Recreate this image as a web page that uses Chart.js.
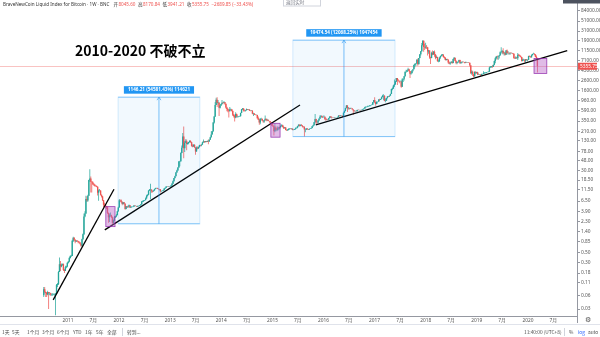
<!DOCTYPE html>
<html>
<head>
<meta charset="utf-8">
<script src="https://cdn.jsdelivr.net/npm/chart.js@4.4.1/dist/chart.umd.min.js"></script>
<style>
  html, body { margin: 0; padding: 0; background: #ffffff; }
  canvas { display: block; }
</style>
</head>
<body>
<canvas id="c" width="600" height="337"></canvas>
<script>
// Weekly BLX candles, one row per week: [close, high, low].
// Each week opens at the previous week's close.
const firstOpen = 0.06;
const firstWeek = Date.UTC(2010, 6, 12);

const btc2010 = [[0.08,0.09,0.055],[0.07,0.09,0.065],[0.067,0.072,0.055],[0.062,0.07,0.055],[0.07,0.075,0.06],[0.066,0.07,0.03],[0.066,0.07,0.06],[0.062,0.068,0.058],[0.062,0.065,0.058],[0.062,0.066,0.058],[0.062,0.065,0.06],[0.062,0.065,0.058],[0.064,0.067,0.022],[0.10,0.105,0.063],[0.105,0.11,0.09],[0.19,0.2,0.1],[0.28,0.39,0.19],[0.25,0.33,0.2],[0.27,0.29,0.24],[0.28,0.29,0.26],[0.21,0.29,0.2],[0.20,0.22,0.18],[0.24,0.26,0.2],[0.25,0.26,0.23],[0.30,0.31,0.24]];

const btc2011 = [[0.32,0.33,0.29],[0.38,0.4,0.31],[0.42,0.44,0.37],[0.42,0.45,0.4],[0.9,0.95,0.42],[1.05,1.1,0.85],[0.95,1.07,0.9],[0.87,0.97,0.8],[0.90,0.93,0.85],[0.89,0.93,0.85],[0.86,0.9,0.8],[0.83,0.88,0.8],[0.78,0.84,0.75],[0.70,0.79,0.67],[0.97,1.0,0.68],[1.25,1.3,0.95],[3.0,3.5,1.2],[3.5,3.9,2.9],[7.2,8.5,3.4],[6.7,8.3,6.2],[8.5,8.9,6.3],[18.5,18.8,8.4],[20,31.9,17],[17,22,10],[16.7,17.5,10],[15.4,17.5,14.5],[14.8,16,14],[13.9,15.1,13.5],[13.8,14.3,13.2],[13.3,14.2,13],[9.9,13.5,8.6],[11.0,11.5,6.6],[11.0,11.8,10.6],[8.9,11.1,8.6],[8.2,9.0,7.8],[6.8,8.4,6.5],[5.4,6.9,4.8],[5.3,6.0,5.0],[5.0,5.4,4.7],[4.9,5.1,4.4],[3.6,4.9,3.4],[2.9,3.7,2.2],[3.2,3.5,2.3],[3.2,3.7,3.0],[2.9,3.3,2.8],[2.2,3.0,2.10],[2.5,2.6,2.15],[2.9,3.1,2.4],[3.0,3.1,2.8],[3.2,3.4,2.9],[3.9,4.0,3.2],[4.7,4.9,3.8]];

const btc2012 = [[6.8,7.2,4.7],[6.7,7.0,6.2],[6.3,7.0,5.9],[5.6,6.4,5.3],[6.1,6.2,5.5],[5.7,6.1,5.5],[4.4,5.8,4.2],[5.0,5.1,4.3],[4.8,5.1,4.6],[4.9,5.2,4.7],[5.3,5.5,4.8],[4.7,5.3,4.6],[4.9,5.0,4.6],[4.9,5.0,4.8],[4.9,5.0,4.8],[5.2,5.3,4.9],[5.1,5.2,5.0],[5.1,5.2,5.0],[4.9,5.1,4.9],[5.1,5.2,4.9],[5.1,5.2,5.0],[5.3,5.3,5.1],[5.5,5.6,5.2],[6.4,6.5,5.5],[6.5,6.7,6.2],[6.7,6.8,6.2],[6.8,6.9,6.5],[7.4,7.8,6.8],[8.4,8.9,7.3],[8.9,9.1,8.2],[11.0,11.2,8.8],[11.5,11.8,10.8],[11.7,15.4,7.1],[10.8,11.2,9.8],[10.5,11.0,10.0],[11.0,11.2,10.5],[11.8,12.0,10.9],[12.3,12.6,11.7],[12.4,12.6,12.1],[12.0,12.6,11.8],[11.8,12.1,11.6],[11.7,11.9,11.4],[10.6,11.8,10.0],[10.7,10.9,10.4],[10.9,11.0,10.6],[11.2,11.4,10.8],[12.2,12.4,11.1],[12.6,12.8,12.0],[13.4,13.6,12.5],[13.5,13.7,13.2],[13.3,13.6,13.1],[13.5,13.6,13.2],[13.5,13.7,13.3]];

const btc2013 = [[14.2,14.5,13.4],[15.5,16.0,14.0],[17.5,18.0,15.4],[20.4,20.6,17.3],[22.5,23.0,20.0],[27.0,27.5,22.4],[29.8,31.0,26.5],[34.5,34.9,29.5],[46.9,48.0,34.0],[47.0,48.4,37.0],[71,74,46],[93,104,70],[162,194,93],[90,266,55],[119,130,75],[128,142,118],[112,140,82],[117,122,108],[123,125,110],[130,134,120],[122,135,118],[100,123,98],[98,110,95],[107,110,97],[94,110,92],[77,95,65],[93,98,76],[90,98,86],[96,98,87],[106,108,94],[104,107,100],[108,110,100],[121,124,107],[127,140,118],[122,130,118],[128,130,121],[124,130,122],[129,133,123],[126,140,110],[138,139,124],[156,160,137],[180,210,155],[210,212,180],[326,335,205],[440,450,310],[780,900,430],[1005,1120,780],[860,1148.31,700],[880,1000,800],[680,880,450],[760,780,650],[820,830,740]];

const btc2014 = [[870,1000,800],[860,900,810],[890,950,850],[830,900,790],[690,830,650],[640,710,570],[590,660,540],[570,620,420],[630,700,570],[630,650,600],[580,630,560],[480,590,450],[450,500,420],[420,480,340],[500,540,400],[440,510,420],[440,460,420],[440,450,425],[445,455,435],[525,530,440],[630,640,520],[655,670,610],[595,660,560],[590,620,560],[600,610,560],[635,650,590],[620,640,610],[625,630,610],[590,625,580],[585,600,570],[590,600,575],[505,595,490],[510,530,450],[480,515,470],[475,490,465],[475,485,465],[400,480,390],[375,440,370],[325,390,290],[390,400,300],[390,410,370],[355,390,350],[340,360,320],[365,370,320],[390,460,365],[365,390,345],[375,390,360],[350,380,345],[350,355,345],[325,350,310],[320,335,310],[280,325,275]];

const btc2015 = [[270,300,260],[210,280,170],[255,310,200],[225,270,215],[225,245,210],[255,270,215],[245,260,235],[260,265,230],[275,295,255],[285,300,270],[260,290,255],[245,270,235],[255,260,240],[225,260,220],[220,230,215],[225,235,215],[235,245,220],[240,245,230],[237,245,232],[240,243,230],[225,240,222],[225,232,220],[233,236,225],[245,255,230],[250,255,240],[270,275,245],[290,300,265],[275,300,265],[290,295,270],[280,300,275],[265,285,255],[260,270,255],[230,270,161.37],[230,240,200],[240,245,225],[232,245,228],[230,235,225],[235,240,225],[240,242,235],[247,250,237],[270,272,245],[285,290,265],[330,335,280],[385,500,320],[330,390,300],[325,340,310],[360,370,315],[390,400,355],[435,465,390],[450,470,430],[420,460,410],[430,440,415]];

const btc2016 = [[435,465,425],[385,440,370],[380,410,355],[370,395,365],[375,380,365],[405,410,370],[440,445,400],[430,445,405],[415,440,395],[415,420,405],[410,420,405],[415,420,405],[418,420,410],[420,425,415],[430,432,418],[460,465,428],[450,468,445],[460,465,442],[457,462,450],[440,458,435],[530,535,438],[580,590,520],[665,680,570],[760,780,660],[665,770,550],[670,700,620],[650,680,620],[665,680,640],[655,680,650],[625,660,620],[590,630,480],[570,600,565],[580,590,565],[570,590,565],[610,615,565],[605,630,600],[610,615,600],[600,612,595],[610,612,597],[615,620,605],[640,645,612],[655,660,635],[700,715,650],[705,740,690],[705,720,690],[730,760,700],[735,745,725],[765,770,730],[775,780,755],[790,795,770],[890,900,790],[1000,1000,885]];

const btc2017 = [[900,1150,850],[820,910,750],[920,930,810],[920,930,880],[1020,1030,915],[1000,1060,940],[1050,1060,995],[1150,1190,1040],[1230,1290,1150],[1230,1330,980],[960,1260,940],[970,1080,890],[1100,1110,950],[1200,1210,1080],[1180,1220,1160],[1240,1250,1170],[1350,1360,1230],[1720,1740,1340],[1780,1850,1620],[2050,2100,1720],[2200,2760,1900],[2520,2560,2100],[2980,3000,2450],[2620,2980,2100],[2600,2800,2500],[2500,2600,2300],[2510,2630,2480],[1920,2560,1840],[2760,2930,1900],[2870,2880,2450],[3250,3280,2650],[4050,4150,3200],[4100,4480,3900],[4380,4460,4000],[4600,4980,4350],[4220,4720,4100],[3690,4250,2970],[3780,4100,3500],[4360,4400,3770],[4600,4620,4150],[5700,5850,4600],[6000,6200,5100],[6150,6200,5450],[7400,7600,6100],[5950,7880,5500],[8050,8100,5900],[9700,9750,8000],[11300,11400,9200],[15300,17100,11100],[19100,19635.91,15000],[13900,19400,11100],[13700,16500,12100]];

const btc2018 = [[14200,17200,12800],[13800,15400,12600],[11200,13800,9200],[11800,12100,10000],[8300,11700,7800],[8100,8600,6000],[10400,11000,8000],[9600,11800,9300],[11000,11500,9500],[9600,11700,8600],[8200,9900,7600],[8500,9100,8100],[6900,8600,6700],[7000,7500,6500],[8300,8400,6600],[8900,9000,7800],[9300,9750,8700],[9600,9900,9000],[8500,9600,8300],[8200,8800,7900],[7350,8400,7100],[7650,7750,7100],[7500,7800,7350],[6450,7450,6100],[6150,6800,5950],[6400,6500,5800],[6700,6850,6250],[6300,6800,6100],[7700,7750,6200],[8200,8500,7400],[7000,8200,6900],[6300,7200,5900],[6500,6600,5900],[6700,6900,6300],[7300,7400,6700],[6250,7400,6100],[6500,6600,6150],[6700,6800,6250],[6600,6750,6400],[6600,6700,6500],[6300,6650,6150],[6450,6800,6350],[6400,6500,6350],[6420,6450,6300],[6350,6550,6330],[5600,6400,5300],[3800,5600,3700],[4050,4400,3500],[3600,4300,3300],[3200,3600,3150],[4000,4200,3250],[3850,4200,3600],[4000,4100,3700]];

const btc2019 = [[3550,4100,3450],[3600,3750,3500],[3550,3650,3500],[3450,3550,3350],[3650,3700,3400],[3650,3700,3550],[3820,4200,3650],[3850,3950,3700],[3900,3950,3750],[3990,4000,3800],[4020,4100,3950],[4100,4150,3950],[5050,5300,4100],[5150,5450,4950],[5350,5400,5000],[5200,5650,5000],[5750,5850,5200],[6950,7150,5650],[8000,8350,6200],[8700,8950,7500],[8550,9100,7500],[8800,8900,7450],[9300,9400,7900],[10800,11300,9050],[10800,13800,10300],[11400,12000,9700],[10200,13200,9800],[10500,11000,9100],[9500,10700,9200],[11800,12100,9400],[10300,12300,10100],[10300,11500,9500],[10150,10950,9800],[10400,10650,9400],[10300,10900,10200],[10300,10450,9950],[10000,10400,9750],[8050,10050,7800],[7850,8500,7750],[8300,8850,7800],[8000,8450,7900],[9550,10350,7300],[9200,9900,8950],[8800,9500,8700],[8500,9100,8300],[7000,8500,6800],[7500,7850,6850],[7500,7800,7100],[7050,7500,6550],[7500,7700,6450],[7250,7650,7100],[7400,7500,6900]];

const btc2020 = [[8900,9000,7350],[8700,9200,8450],[8350,8850,8250],[9300,9600,8300],[9900,10000,9150],[9900,10500,9750],[9650,10200,9300],[8550,9700,8500],[8045.60,9150,7650],[5355.75,8170.84,3941.21]];

// Price axis labels (log scale) and time axis marks
const priceTicks = [0.03, 0.06, 0.11, 0.18, 0.30, 0.50, 0.85, 1.40, 2.30, 3.90, 6.50, 11.50, 18.50, 30, 48, 78, 130, 210, 350, 590, 960, 1600, 2600, 4300, 7100, 11500, 19000, 31000, 51000, 84000];
const yearTicks = [2011, 2012, 2013, 2014, 2015, 2016, 2017, 2018, 2019, 2020];
const midYearLabel = '7月';

// Drawings: trend lines [[year, price], [year, price]]
const trendLines = [
  [[2010.71, 0.0474], [2011.90, 11.7]],
  [[2011.72, 1.55], [2015.54, 780]],
  [[2015.85, 288], [2020.77, 11660]]
];
// Highlighted zones
const zones = [
  { from: 2011.74, to: 2011.92, low: 1.82, high: 4.93 },
  { from: 2014.97, to: 2015.15, low: 156.6, high: 313 },
  { from: 2020.12, to: 2020.37, low: 3747, high: 7910 }
];
// Date & price range measurements
const ranges = [
  { from: 2011.98, to: 2013.58, low: 2.10, high: 1148.31 },
  { from: 2015.40, to: 2017.40, low: 161.37, high: 19635.91 }
];

const upColor = '#26a69a';
const downColor = '#ef5350';

function fracYear(ms) {
  const d = new Date(ms);
  const y = d.getUTCFullYear();
  const a = Date.UTC(y, 0, 1), b = Date.UTC(y + 1, 0, 1);
  return y + (ms - a) / (b - a);
}

const weeks = [].concat(btc2010, btc2011, btc2012, btc2013, btc2014, btc2015, btc2016, btc2017, btc2018, btc2019, btc2020);
const candles = [];
let prevClose = firstOpen;
weeks.forEach(([c, h, l], i) => {
  candles.push({ t: fracYear(firstWeek + i * 7 * 86400000), o: prevClose, h, l, c });
  prevClose = c;
});
const candleColors = candles.map(k => (k.c >= k.o ? upColor : downColor));
const last = candles[candles.length - 1];

const xMin = 2009.669, xMax = 2020.961;
const yMin = 0.02124, yMax = 119700;

Chart.defaults.font.family = '"Noto Sans", "Noto Sans CJK SC", sans-serif';

const overlay = {
  id: 'overlay',
  beforeDatasetsDraw(chart) {
    const { ctx, chartArea: a, scales: { y } } = chart;
    const py = Math.round(y.getPixelForValue(last.c)) + 0.5;
    ctx.save();
    ctx.strokeStyle = 'rgba(239,83,80,0.35)';
    ctx.lineWidth = 1;
    ctx.beginPath(); ctx.moveTo(a.left, py); ctx.lineTo(a.right, py); ctx.stroke();
    ctx.restore();
  },
  afterDatasetsDraw(chart) {
    const { ctx, chartArea: a, scales: { x, y } } = chart;
    ctx.save();
    ctx.beginPath(); ctx.rect(a.left, a.top - 20, a.right - a.left, a.bottom - a.top + 20); ctx.clip();

    ranges.forEach(r => {
      const L = x.getPixelForValue(r.from), R = x.getPixelForValue(r.to);
      const T = y.getPixelForValue(r.high), B = y.getPixelForValue(r.low);
      ctx.fillStyle = 'rgba(33,150,243,0.06)';
      ctx.fillRect(L, T, R - L, B - T);
      ctx.strokeStyle = 'rgba(33,150,243,0.18)';
      ctx.lineWidth = 1;
      ctx.strokeRect(L, T, R - L, B - T);
      ctx.strokeStyle = 'rgba(33,150,243,0.45)';
      ctx.beginPath(); ctx.moveTo(L, T); ctx.lineTo(R, T); ctx.moveTo(L, B); ctx.lineTo(R, B); ctx.stroke();
      const mx = (L + R) / 2;
      ctx.strokeStyle = 'rgba(33,150,243,0.6)';
      ctx.beginPath(); ctx.moveTo(mx, B); ctx.lineTo(mx, T); ctx.stroke();
      ctx.beginPath(); ctx.moveTo(mx - 2, T + 3); ctx.lineTo(mx, T); ctx.lineTo(mx + 2, T + 3); ctx.stroke();
      const diff = r.high - r.low;
      const txt = diff.toFixed(2) + ' (' + (diff / r.low * 100).toFixed(2) + '%) ' + Math.round(diff * 100);
      ctx.font = 'bold 4.6px "Noto Sans", sans-serif';
      const w = ctx.measureText(txt).width + 8;
      ctx.fillStyle = '#2196f3';
      ctx.fillRect(mx - w / 2, T - 11, w, 7.5);
      ctx.fillStyle = '#ffffff';
      ctx.textAlign = 'center'; ctx.textBaseline = 'middle';
      ctx.fillText(txt, mx, T - 7.1);
    });

    zones.forEach(z => {
      const L = x.getPixelForValue(z.from), R = x.getPixelForValue(z.to);
      const T = y.getPixelForValue(z.high), B = y.getPixelForValue(z.low);
      ctx.fillStyle = 'rgba(186,104,200,0.45)';
      ctx.fillRect(L, T, R - L, B - T);
      ctx.strokeStyle = 'rgba(142,36,170,0.85)';
      ctx.lineWidth = 0.8;
      ctx.strokeRect(L, T, R - L, B - T);
    });
    ctx.restore();
  },
  afterDraw(chart) {
    const { ctx, chartArea: a, scales: { y } } = chart;
    ctx.save();

    // last price tag on the price axis
    const py = y.getPixelForValue(last.c);
    ctx.fillStyle = '#ef5350';
    ctx.fillRect(a.right + 1, py - 3.5, 19, 7);
    ctx.fillStyle = '#ffffff';
    ctx.font = '4.8px "Noto Sans", sans-serif';
    ctx.textAlign = 'left'; ctx.textBaseline = 'middle';
    ctx.fillText(last.c.toFixed(2), a.right + 3, py + 0.2);

    // tag at the top of the price axis
    ctx.fillStyle = '#4c525e';
    ctx.fillRect(a.right - 14, -4, 37, 7.5);

    // axis line continues to the bottom bar
    ctx.strokeStyle = '#9598a1'; ctx.lineWidth = 1;
    ctx.beginPath(); ctx.moveTo(a.right + 0.5, a.bottom); ctx.lineTo(a.right + 0.5, a.bottom + 7); ctx.stroke();

    // header: symbol name, then OHLC of the last week
    ctx.textBaseline = 'middle';
    ctx.font = '4.6px "Noto Sans", "Noto Sans CJK SC", sans-serif';
    ctx.fillStyle = '#333';
    const symbol = 'BraveNewCoin Liquid Index for Bitcoin · 1W · BNC';
    ctx.fillText(symbol, 3, 5);
    const chg = last.c - last.o;
    const parts = [['开', last.o.toFixed(2)], ['高', last.h.toFixed(2)], ['低', last.l.toFixed(2)], ['收', last.c.toFixed(2)]];
    let hx = 3 + ctx.measureText(symbol).width + 4;
    parts.forEach(([k, v]) => {
      ctx.fillStyle = '#333'; ctx.fillText(k, hx, 5); hx += ctx.measureText(k).width + 0.4;
      ctx.fillStyle = '#ef5350'; ctx.fillText(v, hx, 5); hx += ctx.measureText(v).width + 2.5;
    });
    ctx.fillText('−' + Math.abs(chg).toFixed(2) + ' (−' + Math.abs(chg / last.o * 100).toFixed(2) + '%)', hx, 5);

    // small button at top
    ctx.strokeStyle = '#d1d4dc'; ctx.fillStyle = '#fff';
    ctx.fillRect(283, -2, 37, 8); ctx.strokeRect(283.5, -1.5, 37, 7.5);
    ctx.fillStyle = '#787b86'; ctx.font = '4.6px "Noto Sans CJK SC", sans-serif';
    ctx.fillText('返回实时', 286, 2.5);

    // title
    ctx.fillStyle = '#000';
    ctx.font = 'bold 14px "Noto Sans CJK SC", "Noto Sans", sans-serif';
    ctx.textBaseline = 'alphabetic';
    ctx.fillText('2010-2020 不破不立', 75, 56);

    // bottom bar
    ctx.strokeStyle = '#e0e3eb';
    ctx.beginPath(); ctx.moveTo(0, 324.5); ctx.lineTo(600, 324.5); ctx.stroke();
    ctx.font = '4.8px "Noto Sans CJK SC", "Noto Sans", sans-serif';
    ctx.textBaseline = 'middle';
    ctx.fillStyle = '#4a4a4a';
    [['1天', 2], ['5天', 12], ['1个月', 27], ['3个月', 42], ['6个月', 57], ['YTD', 73], ['1年', 85], ['5年', 96], ['全部', 107], ['转到...', 127]]
      .forEach(([t, px]) => ctx.fillText(t, px, 332));
    ctx.strokeStyle = '#d1d4dc';
    ctx.beginPath(); ctx.moveTo(122.5, 328); ctx.lineTo(122.5, 336); ctx.moveTo(564.5, 328); ctx.lineTo(564.5, 336); ctx.stroke();
    ctx.fillText('11:40:00 (UTC+8)', 524, 332);
    ctx.fillText('%', 569, 332);
    ctx.fillStyle = '#2962ff'; ctx.fillText('log', 578, 332);
    ctx.fillStyle = '#4a4a4a'; ctx.fillText('auto', 588, 332);
    ctx.font = '7px "DejaVu Sans", sans-serif';
    ctx.fillStyle = '#555';
    ctx.fillText('⚙', 585, 320);
    ctx.restore();
  }
};

new Chart(document.getElementById('c'), {
  type: 'bar',
  data: {
    datasets: [
      {
        label: 'range',
        data: candles.map(k => ({ x: k.t, y: [k.l, k.h] })),
        backgroundColor: candleColors,
        grouped: false, barPercentage: 0.75, categoryPercentage: 1, order: 2
      },
      {
        label: 'body',
        data: candles.map(k => ({ x: k.t, y: [k.o, k.c] })),
        backgroundColor: candleColors,
        grouped: false, barPercentage: 1.4, categoryPercentage: 1, order: 1
      },
      ...trendLines.map((seg, i) => ({
        type: 'line',
        label: 'trend ' + (i + 1),
        data: seg.map(([x, y]) => ({ x, y })),
        borderColor: '#000000',
        borderWidth: 1.3,
        pointRadius: 0,
        order: 0
      }))
    ]
  },
  options: {
    responsive: false,
    devicePixelRatio: 1,
    animation: false,
    events: [],
    layout: { padding: { top: 1.1, bottom: 11, left: 0, right: 0 } },
    plugins: { legend: { display: false }, tooltip: { enabled: false }, title: { display: false } },
    scales: {
      x: {
        type: 'linear',
        min: xMin, max: xMax,
        bounds: 'data',
        offset: false,
        afterFit(s) { s.height = 10; },
        afterBuildTicks(s) {
          const t = [];
          yearTicks.forEach(yv => { t.push({ value: yv }); t.push({ value: yv + 0.496 }); });
          s.ticks = t;
        },
        ticks: {
          callback: v => (Number.isInteger(v) ? String(v) : midYearLabel),
          font: { size: 4.8 }, color: '#555', padding: 1.5, autoSkip: false, maxRotation: 0
        },
        grid: { display: false, drawTicks: false, tickLength: 0, offset: false },
        border: { display: true, color: '#9598a1' }
      },
      y: {
        type: 'logarithmic',
        position: 'right',
        min: yMin, max: yMax,
        bounds: 'data',
        afterFit(s) { s.width = 23; },
        afterBuildTicks(s) { s.ticks = priceTicks.map(v => ({ value: v })); },
        ticks: {
          callback: v => Number(v).toFixed(2),
          font: { size: 4.8, lineHeight: 1.2 }, color: '#555', padding: 1, autoSkip: false
        },
        grid: { drawOnChartArea: false, drawTicks: true, tickLength: 3, color: '#9598a1' },
        border: { display: true, color: '#9598a1' }
      }
    }
  },
  plugins: [overlay]
});
</script>
</body>
</html>
